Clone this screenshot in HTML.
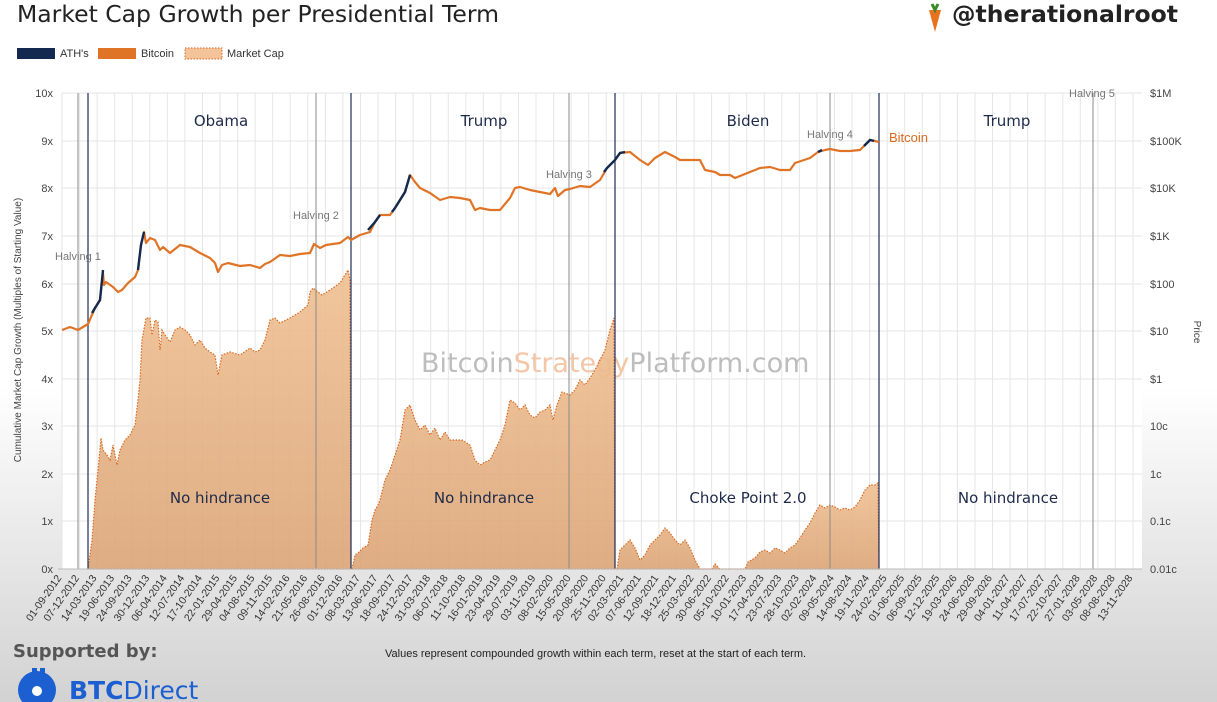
<!DOCTYPE html>
<html><head><meta charset="utf-8"><style>
html,body{margin:0;padding:0;}
body{width:1217px;height:702px;overflow:hidden;background:linear-gradient(180deg,#fff 0%,#fff 55%,#e6e6e6 80%,#d2d2d2 100%);font-family:"Liberation Sans",sans-serif;}
svg{position:absolute;left:0;top:0;}
</style></head><body>
<svg width="1217" height="702" viewBox="0 0 1217 702" xmlns="http://www.w3.org/2000/svg" font-family="Liberation Sans, sans-serif">
<defs>
<linearGradient id="mc" x1="0" y1="0" x2="0" y2="1"><stop offset="0" stop-color="#f0c092"/><stop offset="1" stop-color="#dba476"/></linearGradient>
</defs>
<rect x="62" y="93" width="1080" height="476" fill="#fff"/>
<text x="17" y="22" font-size="23.5" fill="#222" font-family="DejaVu Sans, sans-serif">Market Cap Growth per Presidential Term</text>
<g transform="translate(924,2)"><path d="M5 8 L17 8 L11 30 Z" fill="#e8731e"/><path d="M8 2 L11 8 L14 2" stroke="#3a8a2a" stroke-width="3" fill="none"/></g>
<text x="952" y="22" font-size="23.5" font-weight="bold" fill="#222" font-family="DejaVu Sans, sans-serif">@therationalroot</text>
<rect x="17" y="48" width="38" height="11" fill="#13294f"/><text x="60" y="57" font-size="11" fill="#333">ATH's</text>
<rect x="98" y="48" width="38" height="11" fill="#e07426"/><text x="141" y="57" font-size="11" fill="#333">Bitcoin</text>
<rect x="185" y="48" width="37" height="11" fill="#f3c499" stroke="#d9691f" stroke-dasharray="1.5 1.5"/><text x="227" y="57" font-size="11" fill="#333">Market Cap</text>
<g stroke="#e4e4e4" stroke-width="1">
<line x1="62" y1="93" x2="1142" y2="93"/><line x1="62" y1="141" x2="1142" y2="141"/><line x1="62" y1="188" x2="1142" y2="188"/><line x1="62" y1="236" x2="1142" y2="236"/><line x1="62" y1="284" x2="1142" y2="284"/><line x1="62" y1="331" x2="1142" y2="331"/><line x1="62" y1="379" x2="1142" y2="379"/><line x1="62" y1="426" x2="1142" y2="426"/><line x1="62" y1="474" x2="1142" y2="474"/><line x1="62" y1="521" x2="1142" y2="521"/>
</g>
<g stroke="#e6e6e6" stroke-width="1">
<path d="M62 93V569M79.6 93V569M97.1 93V569M114.7 93V569M132.2 93V569M149.8 93V569M167.3 93V569M184.9 93V569M202.5 93V569M220 93V569M237.6 93V569M255.1 93V569M272.7 93V569M290.2 93V569M307.8 93V569M325.4 93V569M342.9 93V569M360.5 93V569M378 93V569M395.6 93V569M413.1 93V569M430.7 93V569M448.3 93V569M465.8 93V569M483.4 93V569M500.9 93V569M518.5 93V569M536 93V569M553.6 93V569M571.2 93V569M588.7 93V569M606.3 93V569M623.8 93V569M641.4 93V569M658.9 93V569M676.5 93V569M694.1 93V569M711.6 93V569M729.2 93V569M746.7 93V569M764.3 93V569M781.8 93V569M799.4 93V569M817 93V569M834.5 93V569M852.1 93V569M869.6 93V569M887.2 93V569M904.7 93V569M922.3 93V569M939.9 93V569M957.4 93V569M975 93V569M992.5 93V569M1010.1 93V569M1027.6 93V569M1045.2 93V569M1062.8 93V569M1080.3 93V569M1097.9 93V569M1115.4 93V569M1133 93V569"/>
</g>
<text x="421" y="372" font-size="27" fill="#bdbdbd" font-family="DejaVu Sans, sans-serif">Bitcoin<tspan fill="#f2c6a6">Strategy</tspan>Platform.com</text>
<g fill="url(#mc)" stroke="#d9691f" stroke-width="1.2" stroke-dasharray="1.5 1.5" fill-opacity="0.9">
<path d="M88 569L92 540L95 500L98 470L101 438L103 450L107 455L110 460L113 445L117 465L120 450L125 440L130 435L135 425L138 400L140 380L142 340L146 318L150 318L152 335L155 320L158 322L160 350L162 330L165 335L170 342L175 330L180 327L185 330L190 335L195 345L200 340L205 348L210 352L215 355L218 375L222 355L230 352L240 355L250 348L255 352L260 350L265 340L270 320L275 318L280 323L290 318L300 312L308 305L310 292L313 288L318 292L322 295L330 290L340 283L348 270L350 280L351 569Z"/>
<path d="M352 569L355 555L358 553L363 548L368 545L372 520L375 510L378 505L380 500L385 480L390 470L395 455L400 440L405 410L410 405L415 420L420 430L425 425L430 435L435 428L440 440L445 432L450 440L455 440L462 440L470 445L475 460L480 465L485 462L490 460L495 450L500 440L505 425L510 400L515 403L520 410L525 405L530 415L535 418L540 412L545 410L550 405L553 420L557 405L562 392L570 395L575 390L580 380L585 385L590 378L595 370L600 360L605 350L610 330L614 318L615 569Z"/>
<path d="M617 569L620 550L625 545L630 540L635 548L640 560L645 555L650 545L655 540L660 535L665 528L670 533L675 540L680 545L685 540L690 548L695 560L700 569L712 569L715 564L720 569L745 569L748 562L755 558L760 552L765 550L770 553L775 548L780 550L785 553L790 548L795 545L800 538L805 530L810 523L815 513L820 505L825 508L830 505L835 507L840 510L845 508L850 510L855 507L860 500L865 490L870 485L875 485L878 483L879 569Z"/>
</g>
<g stroke="#1f2d5a" stroke-width="1.2"><line x1="88" y1="93" x2="88" y2="569"/><line x1="351" y1="93" x2="351" y2="569"/><line x1="615" y1="93" x2="615" y2="569"/><line x1="879" y1="93" x2="879" y2="569"/></g>
<g stroke="#8a8a8a" stroke-width="1"><line x1="78" y1="93" x2="78" y2="569"/><line x1="316" y1="93" x2="316" y2="569"/><line x1="569" y1="93" x2="569" y2="569"/><line x1="830" y1="93" x2="830" y2="569"/><line x1="1093" y1="93" x2="1093" y2="569"/></g>
<polyline fill="none" stroke="#e07426" stroke-width="2.2" stroke-linejoin="round" points="62,330 70,327 78,330 88,324 95,308 100,300 103,273 104,285 106,282 113,287 118,292 122,290 128,283 135,277 138,270 141,245 144,232 146,243 150,238 155,240 160,250 163,247 170,253 180,245 190,247 200,253 210,258 215,263 218,272 222,265 228,263 240,266 250,265 260,268 265,264 270,262 280,255 290,256 300,254 310,253 314,244 320,248 326,245 340,243 348,237 351,240 360,235 370,232 375,222 380,215 390,215 395,208 400,200 405,192 410,175 415,182 420,188 430,193 440,200 450,197 460,198 470,200 475,210 480,208 490,210 500,210 510,198 515,188 520,187 530,190 540,192 550,194 555,188 558,196 565,190 570,189 580,186 590,187 600,180 607,168 615,160 620,153 630,152 640,160 648,165 655,158 665,152 675,157 680,160 690,160 700,160 705,170 715,172 720,175 730,175 735,178 740,176 750,172 760,168 770,167 780,170 790,170 795,163 810,158 818,152 825,150 830,149 840,151 850,151 860,150 865,145 870,140 875,141 879,142"/>
<g fill="none" stroke="#13294f" stroke-width="2.4">
<polyline points="92,313 95,308 100,300 103,270"/><polyline points="138,270 141,245 144,232"/><polyline points="368,230 375,222 380,215"/><polyline points="392,212 395,208 400,200 405,192 410,175"/><polyline points="604,172 607,168 615,160 620,153 625,152"/><polyline points="818,152 822,150"/><polyline points="864,146 870,140 874,141"/>
</g>
<g font-size="11" fill="#444" text-anchor="end"><text x="53" y="97">10x</text><text x="53" y="145">9x</text><text x="53" y="192">8x</text><text x="53" y="240">7x</text><text x="53" y="288">6x</text><text x="53" y="335">5x</text><text x="53" y="383">4x</text><text x="53" y="430">3x</text><text x="53" y="478">2x</text><text x="53" y="525">1x</text><text x="53" y="573">0x</text></g>
<line x1="58" y1="569" x2="1142" y2="569" stroke="#bbb"/>
<g font-size="11" fill="#444"><text x="1150" y="97">$1M</text><text x="1150" y="145">$100K</text><text x="1150" y="192">$10K</text><text x="1150" y="240">$1K</text><text x="1150" y="288">$100</text><text x="1150" y="335">$10</text><text x="1150" y="383">$1</text><text x="1150" y="430">10c</text><text x="1150" y="478">1c</text><text x="1150" y="525">0.1c</text><text x="1150" y="573">0.01c</text></g>
<text transform="translate(21 330) rotate(-90)" text-anchor="middle" font-size="10" fill="#444">Cumulative Market Cap Growth (Multiples of Starting Value)</text>
<text transform="translate(1194 332) rotate(90)" text-anchor="middle" font-size="10" fill="#444">Price</text>
<g font-size="15" fill="#1e2a4a" text-anchor="middle" font-family="DejaVu Sans, sans-serif"><text x="221" y="126">Obama</text><text x="484" y="126">Trump</text><text x="748" y="126">Biden</text><text x="1007" y="126">Trump</text>
<text x="220" y="503">No hindrance</text><text x="484" y="503">No hindrance</text><text x="748" y="503">Choke Point 2.0</text><text x="1008" y="503">No hindrance</text></g>
<g font-size="11" fill="#777"><text x="55" y="260">Halving 1</text><text x="293" y="219">Halving 2</text><text x="546" y="178">Halving 3</text><text x="807" y="138">Halving 4</text><text x="1069" y="97">Halving 5</text></g>
<text x="889" y="142" font-size="13" fill="#d9691f">Bitcoin</text>
<g font-size="10.5" fill="#333" text-anchor="end">
<text transform="translate(62 578) rotate(-55)">01-09-2012</text><text transform="translate(79.6 578) rotate(-55)">07-12-2012</text><text transform="translate(97.1 578) rotate(-55)">14-03-2013</text><text transform="translate(114.7 578) rotate(-55)">19-06-2013</text><text transform="translate(132.2 578) rotate(-55)">24-09-2013</text><text transform="translate(149.8 578) rotate(-55)">30-12-2013</text><text transform="translate(167.3 578) rotate(-55)">06-04-2014</text><text transform="translate(184.9 578) rotate(-55)">12-07-2014</text><text transform="translate(202.5 578) rotate(-55)">17-10-2014</text><text transform="translate(220 578) rotate(-55)">22-01-2015</text><text transform="translate(237.6 578) rotate(-55)">29-04-2015</text><text transform="translate(255.1 578) rotate(-55)">04-08-2015</text><text transform="translate(272.7 578) rotate(-55)">09-11-2015</text><text transform="translate(290.2 578) rotate(-55)">14-02-2016</text><text transform="translate(307.8 578) rotate(-55)">21-05-2016</text><text transform="translate(325.4 578) rotate(-55)">26-08-2016</text><text transform="translate(342.9 578) rotate(-55)">01-12-2016</text><text transform="translate(360.5 578) rotate(-55)">08-03-2017</text><text transform="translate(378 578) rotate(-55)">13-06-2017</text><text transform="translate(395.6 578) rotate(-55)">18-09-2017</text><text transform="translate(413.1 578) rotate(-55)">24-12-2017</text><text transform="translate(430.7 578) rotate(-55)">31-03-2018</text><text transform="translate(448.3 578) rotate(-55)">06-07-2018</text><text transform="translate(465.8 578) rotate(-55)">11-10-2018</text><text transform="translate(483.4 578) rotate(-55)">16-01-2019</text><text transform="translate(500.9 578) rotate(-55)">23-04-2019</text><text transform="translate(518.5 578) rotate(-55)">29-07-2019</text><text transform="translate(536 578) rotate(-55)">03-11-2019</text><text transform="translate(553.6 578) rotate(-55)">08-02-2020</text><text transform="translate(571.2 578) rotate(-55)">15-05-2020</text><text transform="translate(588.7 578) rotate(-55)">20-08-2020</text><text transform="translate(606.3 578) rotate(-55)">25-11-2020</text><text transform="translate(623.8 578) rotate(-55)">02-03-2021</text><text transform="translate(641.4 578) rotate(-55)">07-06-2021</text><text transform="translate(658.9 578) rotate(-55)">12-09-2021</text><text transform="translate(676.5 578) rotate(-55)">18-12-2021</text><text transform="translate(694.1 578) rotate(-55)">25-03-2022</text><text transform="translate(711.6 578) rotate(-55)">30-06-2022</text><text transform="translate(729.2 578) rotate(-55)">05-10-2022</text><text transform="translate(746.7 578) rotate(-55)">10-01-2023</text><text transform="translate(764.3 578) rotate(-55)">17-04-2023</text><text transform="translate(781.8 578) rotate(-55)">23-07-2023</text><text transform="translate(799.4 578) rotate(-55)">28-10-2023</text><text transform="translate(817 578) rotate(-55)">02-02-2024</text><text transform="translate(834.5 578) rotate(-55)">09-05-2024</text><text transform="translate(852.1 578) rotate(-55)">14-08-2024</text><text transform="translate(869.6 578) rotate(-55)">19-11-2024</text><text transform="translate(887.2 578) rotate(-55)">24-02-2025</text><text transform="translate(904.7 578) rotate(-55)">01-06-2025</text><text transform="translate(922.3 578) rotate(-55)">06-09-2025</text><text transform="translate(939.9 578) rotate(-55)">12-12-2025</text><text transform="translate(957.4 578) rotate(-55)">19-03-2026</text><text transform="translate(975 578) rotate(-55)">24-06-2026</text><text transform="translate(992.5 578) rotate(-55)">29-09-2026</text><text transform="translate(1010.1 578) rotate(-55)">04-01-2027</text><text transform="translate(1027.6 578) rotate(-55)">11-04-2027</text><text transform="translate(1045.2 578) rotate(-55)">17-07-2027</text><text transform="translate(1062.8 578) rotate(-55)">22-10-2027</text><text transform="translate(1080.3 578) rotate(-55)">27-01-2028</text><text transform="translate(1097.9 578) rotate(-55)">03-05-2028</text><text transform="translate(1115.4 578) rotate(-55)">08-08-2028</text><text transform="translate(1133 578) rotate(-55)">13-11-2028</text>
</g>
<text x="385" y="657" font-size="11" fill="#222">Values represent compounded growth within each term, reset at the start of each term.</text>
<text x="13" y="657" font-size="18" font-weight="bold" fill="#555" font-family="DejaVu Sans, sans-serif">Supported by:</text>
<g transform="translate(18,668)"><circle cx="19" cy="22" r="19" fill="#1b5fd1"/><circle cx="19" cy="23" r="5" fill="#fff"/><rect x="14" y="0" width="5" height="8" fill="#1b5fd1"/><rect x="22" y="0" width="5" height="8" fill="#1b5fd1"/></g>
<text x="69" y="699" font-size="25" fill="#1b5fd1" font-family="DejaVu Sans, sans-serif"><tspan font-weight="bold">BTC</tspan>Direct</text>
</svg>
</body></html>
